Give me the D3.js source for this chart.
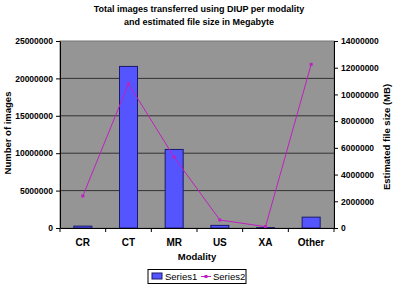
<!DOCTYPE html>
<html><head><meta charset="utf-8">
<script src="https://cdn.jsdelivr.net/npm/d3@7"></script>
<style>body{margin:0;background:#fff}svg{display:block;font-family:"Liberation Sans",Arial,sans-serif}</style>
</head><body><svg id="c" width="396" height="284"></svg>
<script>
const categories = ["CR","CT","MR","US","XA","Other"];
const series1 = [250000, 21600000, 10500000, 350000, 50000, 1450000];
const series2 = [2400000, 10800000, 5300000, 600000, 100000, 12250000];
const leftTicks = [0,5000000,10000000,15000000,20000000,25000000];
const rightTicks = [0,2000000,4000000,6000000,8000000,10000000,12000000,14000000];

const svg = d3.select("#c");
const m = {l:60, r:334, t:41, b:228};
const x = d3.scaleBand().domain(categories).range([m.l, m.r]);
const yL = d3.scaleLinear().domain([0,25000000]).range([m.b, m.t]);
const yR = d3.scaleLinear().domain([0,14000000]).range([m.b, m.t]);

svg.append("rect").attr("x",m.l).attr("y",m.t).attr("width",m.r-m.l).attr("height",m.b-m.t)
  .attr("fill","#959595").attr("stroke","#777").attr("stroke-width",1);

svg.append("g").selectAll("line").data(leftTicks.filter(d=>d>0 && d<25000000)).join("line")
  .attr("x1",m.l).attr("x2",m.r).attr("y1",d=>yL(d)).attr("y2",d=>yL(d))
  .attr("stroke","#333").attr("stroke-width",1);

const bw = 18;
svg.append("g").selectAll("rect").data(series1).join("rect")
  .attr("x",(d,i)=>x(categories[i])+x.bandwidth()/2-bw/2)
  .attr("y",d=>yL(d)).attr("width",bw).attr("height",d=>m.b-yL(d))
  .attr("fill","#5555ff").attr("stroke","#1a1a6e").attr("stroke-width",1);

const line = d3.line().x((d,i)=>x(categories[i])+x.bandwidth()/2).y(d=>yR(d));
svg.append("path").datum(series2).attr("d",line).attr("fill","none")
  .attr("stroke","#c020c0").attr("stroke-width",1);
svg.append("g").selectAll("rect").data(series2).join("rect")
  .attr("x",(d,i)=>x(categories[i])+x.bandwidth()/2-1.5).attr("y",d=>yR(d)-1.5)
  .attr("width",3).attr("height",3).attr("fill","#c020c0");

const fs = "8.5px";
const axL = svg.append("g").attr("transform",`translate(${m.l},0)`)
  .call(d3.axisLeft(yL).tickValues(leftTicks).tickFormat(d3.format("d")).tickSize(4).tickSizeOuter(0));
const axR = svg.append("g").attr("transform",`translate(${m.r},0)`)
  .call(d3.axisRight(yR).tickValues(rightTicks).tickFormat(d3.format("d")).tickSize(4).tickSizeOuter(0));
const axB = svg.append("g").attr("transform",`translate(0,${m.b})`)
  .call(d3.axisBottom(x).tickSize(4).tickSizeOuter(0));
axB.selectAll(".tick line").attr("transform",`translate(${x.bandwidth()/2},0)`);
axB.append("line").attr("x1",m.l).attr("x2",m.l).attr("y1",0).attr("y2",4).attr("stroke","#000");
[axL,axR,axB].forEach(a=>{
  a.selectAll("text").attr("font-size",fs).attr("font-weight","bold").attr("fill","#000")
   .attr("font-family","'Liberation Sans',Arial,sans-serif");
  a.selectAll("line,path").attr("stroke","#000");
});
axB.selectAll("text").attr("dy","1.1em").attr("font-size","10px");

const t = svg.append("text").attr("text-anchor","middle").attr("font-size","9px").attr("font-weight","bold");
t.append("tspan").attr("x",199).attr("y",12).text("Total images transferred using DIUP per modality");
t.append("tspan").attr("x",199).attr("y",25).text("and estimated file size in Megabyte");

svg.append("text").attr("transform","translate(11,133) rotate(-90)").attr("text-anchor","middle")
  .attr("font-size","9.5px").attr("font-weight","bold").text("Number of images");
svg.append("text").attr("transform","translate(390,137) rotate(-90)").attr("text-anchor","middle")
  .attr("font-size","9.5px").attr("font-weight","bold").text("Estimated file size (MB)");
svg.append("text").attr("x",197).attr("y",260).attr("text-anchor","middle")
  .attr("font-size","9.5px").attr("font-weight","bold").text("Modality");

const lg = svg.append("g");
lg.append("rect").attr("x",148).attr("y",269.5).attr("width",98).attr("height",14)
  .attr("fill","#fff").attr("stroke","#000");
lg.append("rect").attr("x",152).attr("y",273).attr("width",10).attr("height",6)
  .attr("fill","#5555ff").attr("stroke","#1a1a6e");
lg.append("text").attr("x",165).attr("y",280).attr("font-size","9.5px").text("Series1");
lg.append("line").attr("x1",201).attr("x2",211).attr("y1",276.5).attr("y2",276.5).attr("stroke","#c020c0");
lg.append("rect").attr("x",204.5).attr("y",275).attr("width",3).attr("height",3).attr("fill","#c020c0");
lg.append("text").attr("x",213).attr("y",280).attr("font-size","9.5px").text("Series2");
</script></body></html>
